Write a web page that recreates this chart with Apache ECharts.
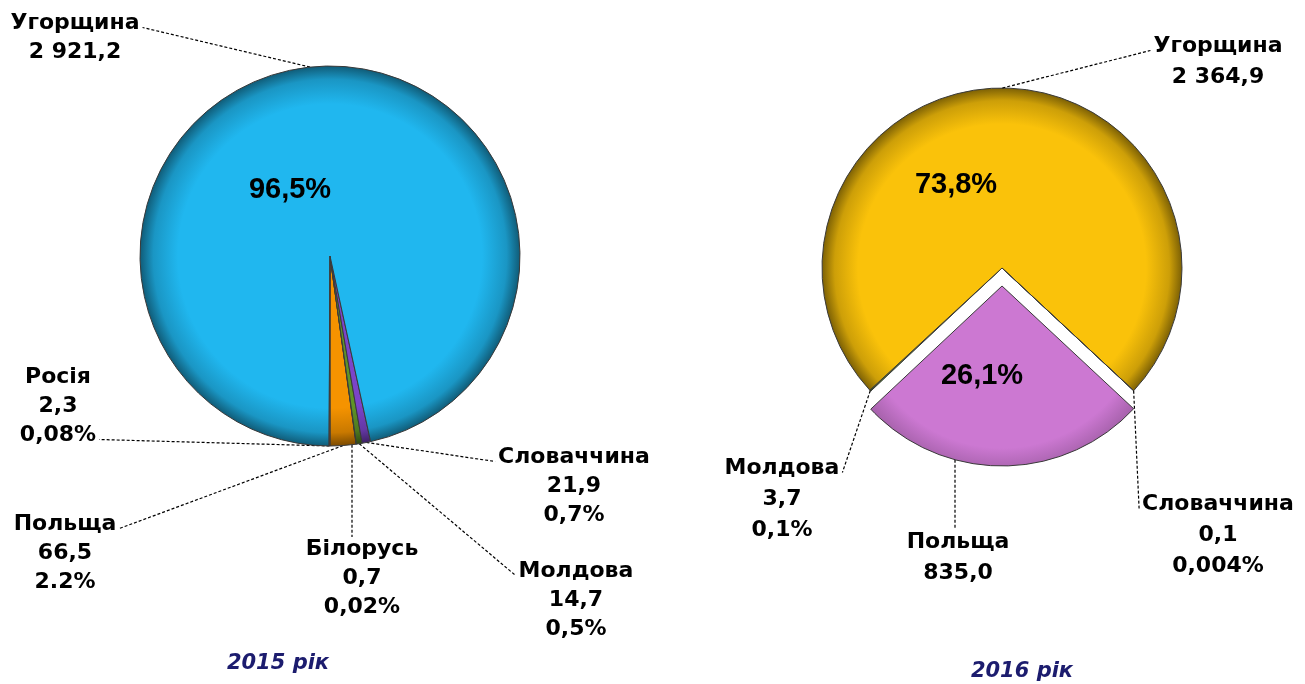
<!DOCTYPE html>
<html><head><meta charset="utf-8">
<script src="https://cdn.jsdelivr.net/npm/echarts@6/dist/echarts.min.js"></script>
<style>html,body{margin:0;padding:0;background:#fff}#c{width:1305px;height:684px}</style>
</head><body><div id="c"></div>
<script>
// ---- data (order = drawing order of slices) ----
const names2015 = ['Польща','Білорусь','Молдова','Словаччина','Угорщина','Росія'];
const values2015 = [66.5, 0.7, 14.7, 21.9, 2921.2, 2.3];
const shares2015 = ['2.2%','0,02%','0,5%','0,7%','96,5%','0,08%'];
const names2016 = ['Польща','Молдова','Угорщина','Словаччина'];
const values2016 = [835.0, 3.7, 2364.9, 0.1];
const shares2016 = ['26,1%','0,1%','73,8%','0,004%'];
const titles = ['2015 рік','2016 рік'];

// ---- style / layout ----
const C1=[330,256], R1=190, C2=[1002,268], R2=180, OFF=18;
const explode2016 = 'Польща';
const colors2015 = {'Польща':'#f59300','Білорусь':'#4a4a4a','Молдова':'#5f9426','Словаччина':'#7b44c9','Угорщина':'#20b7ef','Росія':'#e0601c'};
const colors2016 = {'Польща':'#cc78d2','Молдова':'#5f9426','Угорщина':'#fac20a','Словаччина':'#3a5fc0'};
const lay2015 = {
  'Угорщина':{x:75,y:9,at:'r',line:0},
  'Росія':{x:58,y:363,at:'r',line:2},
  'Польща':{x:65,y:510,at:'r',line:0},
  'Білорусь':{x:362,y:535,at:'t',lx:352},
  'Молдова':{x:576,y:557,at:'l',line:0},
  'Словаччина':{x:574,y:443,at:'l',line:0}
};
const lay2016 = {
  'Угорщина':{x:1218,y:31,at:'l',line:0},
  'Молдова':{x:782,y:453,at:'r',line:0},
  'Польща':{x:958,y:527,at:'t',lx:955},
  'Словаччина':{x:1218,y:489,at:'l',line:0}
};
const pct2015 = {'Угорщина':[290,190]};
const pct2016 = {'Угорщина':[956,185],'Польща':[982,376]};
const LH1=29, LH2=31, FS=22;

const mctx = document.createElement('canvas').getContext('2d');
function tw(s){ mctx.font='bold '+FS+'px "DejaVu Sans"'; return mctx.measureText(s).width; }
function fmt(v){ const p=v.toFixed(1).split('.'); return p[0].replace(/\B(?=(\d{3})+(?!\d))/g,' ')+','+p[1]; }
function total(a){ return a.reduce((x,y)=>x+y,0); }
function isBig(vals,i){ return vals[i]/total(vals)>0.2; }
function outerText(names,vals,shares,i){ const a=[names[i],fmt(vals[i])]; if(!isBig(vals,i)) a.push(shares[i]); return a.join('\n'); }
function shade(hex,f){ const n=parseInt(hex.slice(1),16); const r=n>>16,g=(n>>8)&255,b=n&255; return 'rgb('+Math.round(r*f)+','+Math.round(g*f)+','+Math.round(b*f)+')'; }
function grad(hex,c,r){ return {type:'radial',x:c[0],y:c[1],r:r,global:true,colorStops:[{offset:0,color:hex},{offset:0.8,color:hex},{offset:0.93,color:shade(hex,0.82)},{offset:1,color:shade(hex,0.5)}]}; }
function midDir(vals,i,start,clockwise){ const t=total(vals); let acc=0; for(let k=0;k<i;k++) acc+=vals[k]; const a=(acc+vals[i]/2)/t*360; const ang=(clockwise? start-a : start+a)*Math.PI/180; return [Math.cos(ang),-Math.sin(ang)]; }

function makeData(names,vals,colors,C,R,start,clockwise,explode){
  return names.map((n,i)=>{
    let c=C;
    if(explode===n){ const d=midDir(vals,i,start,clockwise); c=[C[0]+d[0]*OFF,C[1]+d[1]*OFF]; }
    return {name:n,value:vals[i],selected:explode===n,itemStyle:{color:grad(colors[n],c,R)}};
  });
}
function makeLayout(names,vals,shares,lay,lh,C,R,start,clockwise,explode){
  return function(p){
    const n=names[p.dataIndex], L=lay[n]; if(!L) return {};
    const lines=outerText(names,vals,shares,p.dataIndex).split('\n');
    let c=C;
    if(explode===n){ const d=midDir(vals,p.dataIndex,start,clockwise); c=[C[0]+d[0]*OFF,C[1]+d[1]*OFF]; }
    let s,end;
    if(L.at==='t'){
      end=[L.lx,L.y+2];
      s=[L.lx,c[1]+Math.sqrt(R*R-(L.lx-c[0])*(L.lx-c[0]))];
    } else {
      const w=tw(lines[L.line]); const yy=L.y+lh*(L.line+0.5)+4;
      end= L.at==='r'?[L.x+w/2+3,yy]:[L.x-w/2-3,yy];
      s=(p.labelLinePoints&&p.labelLinePoints[0])?[p.labelLinePoints[0][0],p.labelLinePoints[0][1]]:end;
      if(explode===n){ s=[s[0]+c[0]-C[0],s[1]+c[1]-C[1]]; }
    }
    return {x:L.x,y:L.y,align:'center',verticalAlign:'top',labelLinePoints:[s,end]};
  };
}
function pctLayout(names,pct){ return function(p){ const c=pct[names[p.dataIndex]]; return c?{x:c[0],y:c[1],align:'center',verticalAlign:'middle'}:{}; }; }

const labelBase={show:true,position:'outside',color:'#000',fontSize:FS,fontWeight:'bold',fontFamily:'"DejaVu Sans", sans-serif',align:'center'};
const lineBase={show:true,length:10,length2:10,lineStyle:{color:'#000',width:1.2,type:[3,2]}};
const pctLabel={show:true,position:'inside',color:'#000',fontSize:29,fontWeight:'bold',fontFamily:'"Liberation Sans", Arial, sans-serif'};
const clear={color:'rgba(0,0,0,0)',borderWidth:0};
const titleStyle={color:'#1c1c6e',fontSize:21,fontWeight:'bold',fontStyle:'italic',fontFamily:'"DejaVu Sans", sans-serif'};

function plain(names,vals){ return names.map((n,i)=>({name:n,value:vals[i]})); }

const chart=echarts.init(document.getElementById('c'),null,{renderer:'canvas'});
chart.setOption({
  backgroundColor:'#fff',
  animation:false,
  title:[
    {text:titles[0],left:278,top:664,textAlign:'center',textVerticalAlign:'middle',padding:0,textStyle:titleStyle},
    {text:titles[1],left:1022,top:672,textAlign:'center',textVerticalAlign:'middle',padding:0,textStyle:titleStyle}
  ],
  series:[
    // 2015 pie
    {type:'pie',center:C1,radius:R1,clockwise:false,startAngle:270,avoidLabelOverlap:false,selectedMode:false,
     emphasis:{disabled:true},itemStyle:{borderColor:'#3a3a3a',borderWidth:1},
     label:Object.assign({},labelBase,{lineHeight:LH1,formatter:p=>outerText(names2015,values2015,shares2015,p.dataIndex)}),
     labelLine:lineBase,
     labelLayout:makeLayout(names2015,values2015,shares2015,lay2015,LH1,C1,R1,270,false,null),
     data:makeData(names2015,values2015,colors2015,C1,R1,270,false,null)},
    {type:'pie',center:C1,radius:R1,clockwise:false,startAngle:270,silent:true,avoidLabelOverlap:false,z:5,
     emphasis:{disabled:true},itemStyle:clear,
     label:Object.assign({},pctLabel,{formatter:p=>isBig(values2015,p.dataIndex)?shares2015[p.dataIndex]:''}),
     labelLine:{show:false},labelLayout:pctLayout(names2015,pct2015),
     data:plain(names2015,values2015)},
    // 2016 pie (slices, exploded Польща)
    {type:'pie',center:C2,radius:R2,clockwise:true,startAngle:317,avoidLabelOverlap:false,selectedMode:'single',selectedOffset:OFF,
     emphasis:{disabled:true},itemStyle:{borderColor:'#3a3a3a',borderWidth:1},
     select:{itemStyle:{borderColor:'#3a3a3a',borderWidth:1}},
     label:{show:false},labelLine:{show:false},
     data:makeData(names2016,values2016,colors2016,C2,R2,317,true,explode2016)},
    // 2016 outer labels
    {type:'pie',center:C2,radius:R2,clockwise:true,startAngle:317,silent:true,avoidLabelOverlap:false,z:5,selectedMode:false,
     emphasis:{disabled:true},itemStyle:clear,
     label:Object.assign({},labelBase,{lineHeight:LH2,formatter:p=>outerText(names2016,values2016,shares2016,p.dataIndex)}),
     labelLine:lineBase,
     labelLayout:makeLayout(names2016,values2016,shares2016,lay2016,LH2,C2,R2,317,true,explode2016),
     data:plain(names2016,values2016)},
    // 2016 inside percentages
    {type:'pie',center:C2,radius:R2,clockwise:true,startAngle:317,silent:true,avoidLabelOverlap:false,z:6,selectedMode:false,
     emphasis:{disabled:true},itemStyle:clear,
     label:Object.assign({},pctLabel,{formatter:p=>isBig(values2016,p.dataIndex)?shares2016[p.dataIndex]:''}),
     labelLine:{show:false},labelLayout:pctLayout(names2016,pct2016),
     data:plain(names2016,values2016)}
  ]
});
</script></body></html>
